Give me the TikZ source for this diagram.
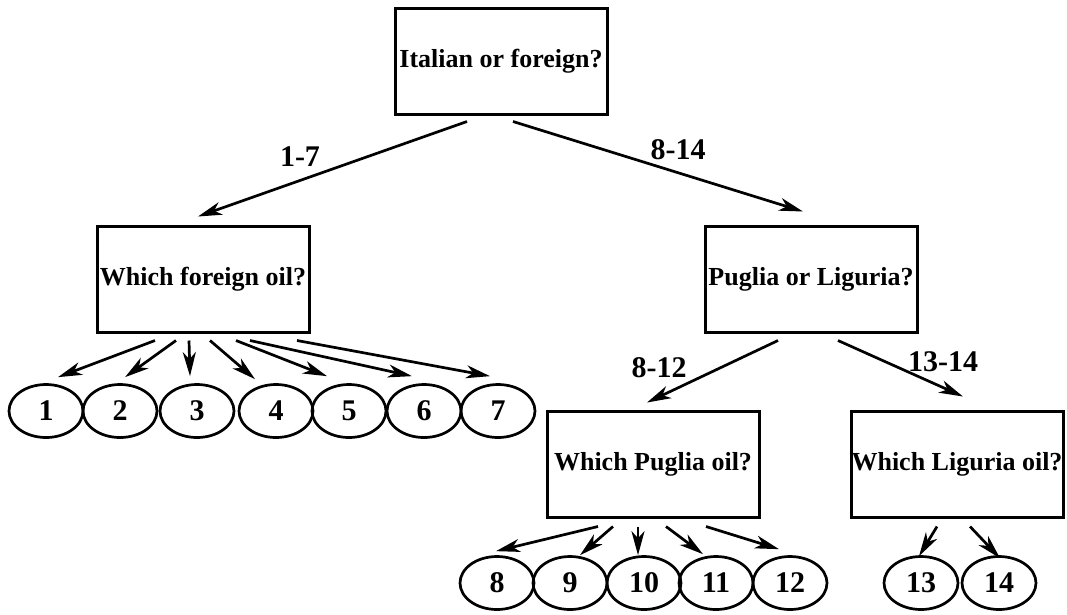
\documentclass[tikz,border=0pt]{standalone}
\usepackage{fontspec}
\setmainfont{Liberation Serif}
\usetikzlibrary{shapes.geometric,arrows.meta}

\begin{document}
\begin{tikzpicture}[x=1pt,y=-1pt,line width=2.7pt,
  >={Stealth[length=24pt,width=13pt,inset=7pt]},
  question/.style={draw,line width=3pt,minimum width=212pt,minimum height=106pt,
    inner sep=0pt,font=\fontsize{26}{30}\selectfont\bfseries},
  oil/.style={draw,ellipse,minimum width=74pt,minimum height=53pt,inner sep=0pt,
    font=\fontsize{30}{34}\selectfont\bfseries},
  rangelabel/.style={font=\fontsize{30}{34}\selectfont\bfseries}]
  \useasboundingbox (0,0) rectangle (1067,614);

  \node[question] (top) at (501,61) {Italian or foreign?};
  \node[question] (foreign) at (203,279) {Which foreign oil?};
  \node[question] (region) at (811,279) {Puglia or Liguria?};
  \node[question] (puglia) at (653,464) {Which Puglia oil?};
  \node[question] (liguria) at (957,464) {Which Liguria oil?};

  % the oils
  \foreach \n/\x in {1/46,2/120,3/197,4/276,5/349,6/424,7/498}
    \node[oil] (o\n) at (\x,411) {\n};
  \foreach \n/\x in {8/497,9/570,10/644,11/716,12/790,13/921,14/999}
    \node[oil] (o\n) at (\x,583) {\n};

  \draw[->] ([shift={(-34,6)}]top.south) -- ([shift={(-5,-8)}]foreign.north);
  \draw[->] ([shift={(12,6)}]top.south) -- ([shift={(-8,-13)}]region.north);
  \draw[->] ([shift={(-33,7)}]region.south) -- ([shift={(-6,-7)}]puglia.north);
  \draw[->] ([shift={(27,7)}]region.south) -- ([shift={(6,-13)}]liguria.north);

  \node[rangelabel] (r1) at (300,157) {1-7};
  \node[rangelabel] (r2) at (678,150) {8-14};
  \node[rangelabel] (r3) at (659,368) {8-12};
  \node[rangelabel] (r4) at (943,362) {13-14};

  \foreach \n/\dx/\ex/\ey in {1/-48/12/-6,2/-27/5/-6,3/-14/-7/-7,4/7/-21/-4,
      5/33/-22/-7,6/47/-12/-7,7/94/-8/-7}
    \draw[->] ([shift={(\dx,7)}]foreign.south) -- ([shift={(\ex,\ey)}]o\n.north);
  \foreach \n/\dx/\ex/\ey in {8/-55/-1/-4,9/-40/10/0,10/-15/-6/0,11/13/-13/-1,12/53/-11/-6}
    \draw[->] ([shift={(\dx,8)}]puglia.south) -- ([shift={(\ex,\ey)}]o\n.north);
  \foreach \n/\dx/\ex/\ey in {13/-20/-2/1,14/13/1/3}
    \draw[->] ([shift={(\dx,8)}]liguria.south) -- ([shift={(\ex,\ey)}]o\n.north);
\end{tikzpicture}
\end{document}
